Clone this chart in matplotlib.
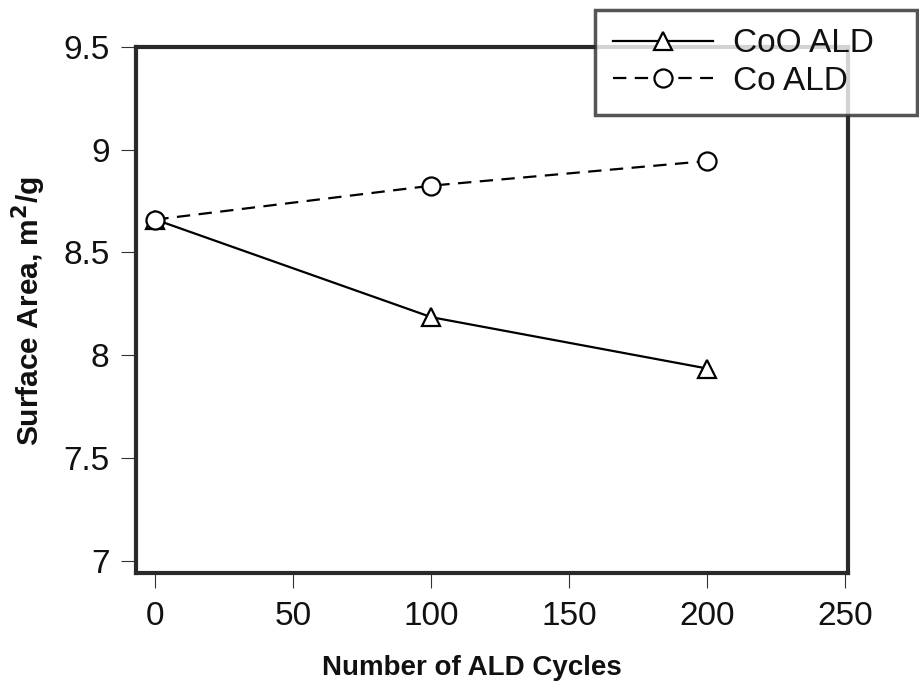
import numpy as np
import matplotlib.pyplot as plt
import matplotlib as mpl

mpl.use('Agg')

plt.rcParams['font.family'] = ['Liberation Sans', 'DejaVu Sans']

# data
cycles = [0, 100, 200]
coo_area = [8.66, 8.185, 7.935]
co_area = [8.66, 8.825, 8.945]

x_ticks = [0, 50, 100, 150, 200, 250]
y_ticks = [7, 7.5, 8, 8.5, 9, 9.5]
y_ticklabels = ['7', '7.5', '8', '8.5', '9', '9.5']

fig = plt.figure(figsize=(9.19, 6.93), dpi=100)
ax = fig.add_axes([0.148, 0.1732, 0.7748, 0.759])

ax.plot(cycles, coo_area, color='k', lw=1.6, marker='^', ms=13,
        mfc='white', mec='k', mew=1.6, label='CoO ALD')
ax.plot(cycles, co_area, color='k', lw=1.6, marker='o', ms=13,
        mfc='white', mec='k', mew=1.6, dashes=(6, 3.8), label='Co ALD')

ax.set_xlim(-7, 251)
ax.set_ylim(6.94, 9.5)
ax.set_xticks(x_ticks)
ax.set_yticks(y_ticks)
ax.set_yticklabels(y_ticklabels)
ax.tick_params(axis='both', direction='out', length=11, width=0.8,
               labelsize=24, color='#333333', labelcolor='#111111')
ax.tick_params(axis='x', pad=9)
ax.tick_params(axis='y', pad=8)

for s in ax.spines.values():
    s.set_linewidth(3)
    s.set_color('#2a2a2a')

ax.set_xlabel('Number of ALD Cycles', fontsize=20, fontweight='bold', color='#111111')
ax.set_ylabel('Surface Area, m$^\\mathbf{2}$/g', fontsize=21.5, fontweight='bold', color='#111111')
ax.xaxis.set_label_coords(0.472, -0.155)
ax.yaxis.set_label_coords(-0.123, 0.498)

leg = ax.legend(loc='upper left', bbox_to_anchor=(0.6474, 0.8312, 0.3504, 0.1544),
                bbox_transform=fig.transFigure, mode='expand', fontsize=24,
                frameon=True, fancybox=False, handlelength=3.0, handletextpad=0.6,
                labelspacing=0.2, borderpad=0.55, borderaxespad=0)
leg.get_frame().set_edgecolor('#2a2a2a')
leg.get_frame().set_linewidth(2.5)
for t in leg.get_texts():
    t.set_color('#111111')

fig.savefig('out.png', dpi=100)
